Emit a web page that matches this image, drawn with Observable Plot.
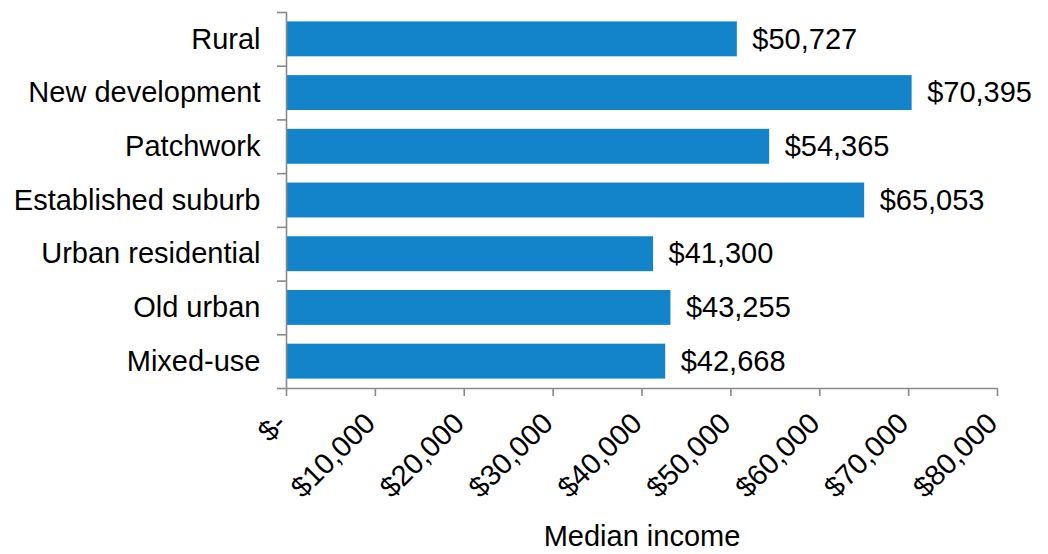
<!DOCTYPE html>
<html>
<head>
<meta charset="utf-8">
<script src="https://cdn.jsdelivr.net/npm/d3@7"></script>
<script src="https://cdn.jsdelivr.net/npm/@observablehq/plot@0.6"></script>
<style>
  html, body { margin: 0; padding: 0; background: #fff; }
  #chart svg { display: block; }
</style>
</head>
<body>
<div id="chart"></div>
<script>
const categories = ["Rural", "New development", "Patchwork", "Established suburb", "Urban residential", "Old urban", "Mixed-use"];
const incomes = [50727, 70395, 54365, 65053, 41300, 43255, 42668];
const xTicks = [0, 10000, 20000, 30000, 40000, 50000, 60000, 70000, 80000];
const xTitle = ["Median income"];

const data = categories.map((c, i) => ({category: c, income: incomes[i]}));
const money = d3.format("$,");
const tickFmt = v => v === 0 ? "$-" : money(v);
const axisColor = "#8a8a8a";
const font = "Liberation Sans, Arial, sans-serif";

const W = 1048, H = 554, mL = 286, mR = 51, mT = 12, mB = 166;
const halfStep = (H - mT - mB) / categories.length / 2;

const chart = Plot.plot({
  width: W,
  height: H,
  marginLeft: mL,
  marginRight: mR,
  marginTop: mT,
  marginBottom: mB,
  style: {fontFamily: font, fontSize: "29px", color: "#000", background: "#fff"},
  x: {domain: [0, 80000]},
  y: {domain: categories, paddingInner: 0.35, paddingOuter: 0.175, round: false},
  marks: [
    Plot.barX(data, {y: "category", x: "income", fill: "#1384CA"}),
    Plot.text(data, {y: "category", x: "income", text: d => money(d.income), textAnchor: "start", dx: 15, fontSize: 29, fill: "#000", letterSpacing: 1.8}),
    // y axis labels
    Plot.axisY({ticks: categories, tickSize: 0, tickPadding: 26, fontSize: 29, label: null, color: "#000"}),
    // y axis boundary ticks
    Plot.axisY({ticks: categories, tickSize: 9, dy: -halfStep, tickFormat: () => "", stroke: axisColor, strokeWidth: 1.6, label: null}),
    Plot.axisY({ticks: categories.slice(-1), tickSize: 9, dy: halfStep, tickFormat: () => "", stroke: axisColor, strokeWidth: 1.6, label: null}),
    // x axis ticks
    Plot.axisX({ticks: xTicks, tickSize: 8, tickFormat: () => "", stroke: axisColor, strokeWidth: 1.6, label: null}),
    // x axis tick labels
    Plot.axisX({ticks: xTicks, tickFormat: tickFmt, tickSize: 0, tickPadding: 30, dx: -5, tickRotate: -45, fontSize: 29, letterSpacing: 1.6, color: "#000", label: null}),
    Plot.ruleY(categories.slice(-1), {dy: halfStep, stroke: axisColor, strokeWidth: 1.6}),
    Plot.ruleX([0], {stroke: axisColor, strokeWidth: 1.6}),
    Plot.text(xTitle, {frameAnchor: "bottom", dy: 157, fontSize: 29, fill: "#000"})
  ]
});

document.getElementById("chart").appendChild(chart);
</script>
</body>
</html>
